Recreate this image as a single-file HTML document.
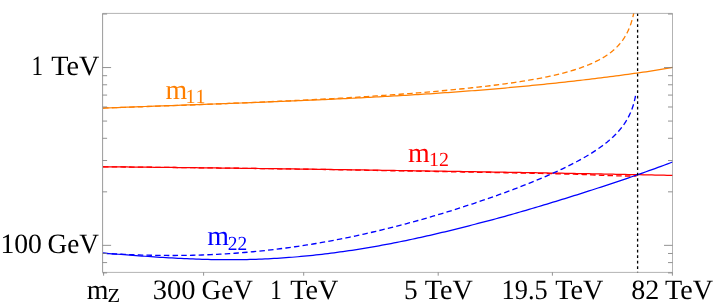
<!DOCTYPE html>
<html><head><meta charset="utf-8"><title>Running masses</title>
<style>
html,body{margin:0;padding:0;background:#fff;}
body{width:714px;height:306px;overflow:hidden;position:relative;font-family:"Liberation Serif",serif;}
.t text{font-family:"Liberation Serif",serif;text-rendering:geometricPrecision;}
svg{will-change:transform;}
</style></head>
<body>
<svg width="714" height="306" viewBox="0 0 714 306" style="position:absolute;left:0;top:0">
<g fill="none" stroke-width="1.25" stroke-linejoin="round">
<path d="M103.00,108.10 L106.00,107.98 L109.00,107.86 L112.00,107.75 L115.00,107.63 L118.00,107.52 L121.00,107.40 L124.00,107.29 L127.00,107.17 L130.00,107.06 L133.00,106.95 L136.00,106.84 L139.00,106.72 L142.00,106.61 L145.00,106.50 L148.00,106.39 L151.00,106.28 L154.00,106.17 L157.00,106.06 L160.00,105.95 L163.00,105.84 L166.00,105.74 L169.00,105.63 L172.00,105.52 L175.00,105.41 L178.00,105.30 L181.00,105.19 L184.00,105.09 L187.00,104.98 L190.00,104.87 L193.00,104.76 L196.00,104.65 L199.00,104.54 L202.00,104.44 L205.00,104.33 L208.00,104.22 L211.00,104.11 L214.00,104.00 L217.00,103.89 L220.00,103.78 L223.00,103.67 L226.00,103.56 L229.00,103.45 L232.00,103.34 L235.00,103.23 L238.00,103.12 L241.00,103.00 L244.00,102.89 L247.00,102.78 L250.00,102.66 L253.00,102.55 L256.00,102.43 L259.00,102.32 L262.00,102.20 L265.00,102.08 L268.00,101.97 L271.00,101.85 L274.00,101.73 L277.00,101.61 L280.00,101.49 L283.00,101.37 L286.00,101.24 L289.00,101.12 L292.00,100.99 L295.00,100.87 L298.00,100.74 L301.00,100.61 L304.00,100.49 L307.00,100.35 L310.00,100.22 L313.00,100.09 L316.00,99.96 L319.00,99.82 L322.00,99.69 L325.00,99.55 L328.00,99.41 L331.00,99.27 L334.00,99.13 L337.00,98.99 L340.00,98.84 L343.00,98.70 L346.00,98.55 L349.00,98.40 L352.00,98.25 L355.00,98.10 L358.00,97.95 L361.00,97.79 L364.00,97.64 L367.00,97.48 L370.00,97.32 L373.00,97.16 L376.00,97.00 L379.00,96.83 L382.00,96.67 L385.00,96.50 L388.00,96.33 L391.00,96.16 L394.00,95.99 L397.00,95.81 L400.00,95.64 L403.00,95.46 L406.00,95.28 L409.00,95.09 L412.00,94.91 L415.00,94.72 L418.00,94.53 L421.00,94.34 L424.00,94.15 L427.00,93.95 L430.00,93.76 L433.00,93.56 L436.00,93.35 L439.00,93.15 L442.00,92.94 L445.00,92.73 L448.00,92.52 L451.00,92.31 L454.00,92.09 L457.00,91.88 L460.00,91.66 L463.00,91.43 L466.00,91.21 L469.00,90.98 L472.00,90.75 L475.00,90.51 L478.00,90.28 L481.00,90.04 L484.00,89.80 L487.00,89.55 L490.00,89.31 L493.00,89.06 L496.00,88.81 L499.00,88.55 L502.00,88.29 L505.00,88.02 L508.00,87.75 L511.00,87.48 L514.00,87.21 L517.00,86.93 L520.00,86.65 L523.00,86.36 L526.00,86.07 L529.00,85.78 L532.00,85.49 L535.00,85.19 L538.00,84.89 L541.00,84.59 L544.00,84.28 L547.00,83.97 L550.00,83.66 L553.00,83.35 L556.00,83.03 L559.00,82.70 L562.00,82.38 L565.00,82.05 L568.00,81.72 L571.00,81.38 L574.00,81.04 L577.00,80.70 L580.00,80.35 L583.00,80.00 L586.00,79.65 L589.00,79.29 L592.00,78.93 L595.00,78.56 L598.00,78.19 L601.00,77.82 L604.00,77.45 L607.00,77.07 L610.00,76.68 L613.00,76.29 L616.00,75.90 L619.00,75.51 L622.00,75.11 L625.00,74.71 L628.00,74.30 L631.00,73.89 L634.00,73.47 L637.00,73.05 L640.00,72.63 L643.00,72.20 L646.00,71.77 L649.00,71.29 L652.00,70.79 L655.00,70.30 L658.00,69.80 L661.00,69.30 L664.00,68.79 L667.00,68.27 L670.00,67.76 L672.50,67.32" stroke="#ff7f00"/>
<path d="M103.00,108.04 L106.00,107.94 L109.00,107.84 L112.00,107.74 L115.00,107.65 L118.00,107.55 L121.00,107.45 L124.00,107.35 L127.00,107.25 L130.00,107.14 L133.00,107.04 L136.00,106.94 L139.00,106.84 L142.00,106.73 L145.00,106.63 L148.00,106.52 L151.00,106.42 L154.00,106.31 L157.00,106.21 L160.00,106.10 L163.00,105.99 L166.00,105.88 L169.00,105.77 L172.00,105.66 L175.00,105.55 L178.00,105.44 L181.00,105.33 L184.00,105.22 L187.00,105.11 L190.00,104.99 L193.00,104.88 L196.00,104.76 L199.00,104.65 L202.00,104.53 L205.00,104.42 L208.00,104.30 L211.00,104.18 L214.00,104.06 L217.00,103.94 L220.00,103.82 L223.00,103.70 L226.00,103.58 L229.00,103.45 L232.00,103.33 L235.00,103.21 L238.00,103.08 L241.00,102.96 L244.00,102.83 L247.00,102.70 L250.00,102.57 L253.00,102.44 L256.00,102.31 L259.00,102.18 L262.00,102.05 L265.00,101.92 L268.00,101.78 L271.00,101.65 L274.00,101.51 L277.00,101.38 L280.00,101.24 L283.00,101.10 L286.00,100.96 L289.00,100.82 L292.00,100.68 L295.00,100.53 L298.00,100.39 L301.00,100.24 L304.00,100.09 L307.00,99.94 L310.00,99.79 L313.00,99.64 L316.00,99.49 L319.00,99.33 L322.00,99.18 L325.00,99.02 L328.00,98.86 L331.00,98.70 L334.00,98.54 L337.00,98.37 L340.00,98.21 L343.00,98.04 L346.00,97.87 L349.00,97.70 L352.00,97.52 L355.00,97.33 L358.00,97.14 L361.00,96.94 L364.00,96.75 L367.00,96.55 L370.00,96.35 L373.00,96.15 L376.00,95.95 L379.00,95.74 L382.00,95.53 L385.00,95.32 L388.00,95.11 L391.00,94.89 L394.00,94.67 L397.00,94.45 L400.00,94.23 L403.00,94.00 L406.00,93.77 L409.00,93.54 L412.00,93.30 L415.00,93.07 L418.00,92.82 L421.00,92.58 L424.00,92.33 L427.00,92.08 L430.00,91.82 L433.00,91.56 L436.00,91.30 L439.00,91.03 L442.00,90.76 L445.00,90.48 L448.00,90.20 L451.00,89.91 L454.00,89.62 L457.00,89.33 L460.00,89.02 L463.00,88.72 L466.00,88.40 L469.00,88.08 L472.00,87.76 L475.00,87.43 L478.00,87.09 L481.00,86.75 L484.00,86.41 L487.00,86.07 L490.00,85.72 L493.00,85.36 L496.00,84.99 L499.00,84.61 L502.00,84.22 L505.00,83.82 L508.00,83.41 L511.00,82.99 L514.00,82.56 L517.00,82.12 L520.00,81.66 L523.00,81.19 L526.00,80.71 L529.00,80.21 L532.00,79.69 L535.00,79.16 L538.00,78.61 L541.00,78.04 L544.00,77.44 L547.00,76.83 L550.00,76.19 L553.00,75.53 L556.00,74.84 L559.00,74.12 L562.00,73.37 L565.00,72.59 L568.00,71.77 L571.00,70.91 L574.00,70.00 L577.00,69.05 L580.00,68.04 L583.00,66.97 L586.00,65.84 L589.00,64.63 L592.00,63.34 L595.00,61.95 L598.00,60.46 L600.00,59.39 L600.25,59.26 L600.50,59.12 L600.75,58.98 L601.00,58.84 L601.25,58.70 L601.50,58.56 L601.75,58.41 L602.00,58.27 L602.25,58.12 L602.50,57.98 L602.75,57.83 L603.00,57.68 L603.25,57.53 L603.50,57.38 L603.75,57.23 L604.00,57.07 L604.25,56.92 L604.50,56.76 L604.75,56.61 L605.00,56.45 L605.25,56.29 L605.50,56.13 L605.75,55.97 L606.00,55.80 L606.25,55.64 L606.50,55.47 L606.75,55.30 L607.00,55.14 L607.25,54.96 L607.50,54.79 L607.75,54.62 L608.00,54.44 L608.25,54.27 L608.50,54.09 L608.75,53.91 L609.00,53.73 L609.25,53.55 L609.50,53.36 L609.75,53.18 L610.00,52.99 L610.25,52.80 L610.50,52.61 L610.75,52.41 L611.00,52.22 L611.25,52.02 L611.50,51.82 L611.75,51.62 L612.00,51.42 L612.25,51.21 L612.50,51.01 L612.75,50.80 L613.00,50.59 L613.25,50.37 L613.50,50.16 L613.75,49.94 L614.00,49.72 L614.25,49.50 L614.50,49.27 L614.75,49.04 L615.00,48.81 L615.25,48.58 L615.50,48.35 L615.75,48.11 L616.00,47.87 L616.25,47.62 L616.50,47.38 L616.75,47.13 L617.00,46.87 L617.25,46.62 L617.50,46.36 L617.75,46.10 L618.00,45.83 L618.25,45.56 L618.50,45.29 L618.75,45.02 L619.00,44.74 L619.25,44.45 L619.50,44.16 L619.75,43.87 L620.00,43.58 L620.25,43.28 L620.50,42.98 L620.75,42.67 L621.00,42.35 L621.25,42.04 L621.50,41.71 L621.75,41.39 L622.00,41.05 L622.25,40.72 L622.50,40.37 L622.75,40.03 L623.00,39.67 L623.25,39.31 L623.50,38.94 L623.75,38.57 L624.00,38.19 L624.25,37.81 L624.50,37.41 L624.75,37.01 L625.00,36.60 L625.25,36.19 L625.50,35.76 L625.75,35.33 L626.00,34.89 L626.25,34.44 L626.50,33.98 L626.75,33.51 L627.00,33.03 L627.25,32.53 L627.50,32.03 L627.75,31.52 L628.00,30.99 L628.25,30.45 L628.50,29.89 L628.75,29.33 L629.00,28.74 L629.25,28.14 L629.50,27.53 L629.75,26.89 L630.00,26.24 L630.25,25.57 L630.50,24.87 L630.75,24.16 L631.00,23.42 L631.25,22.65 L631.50,21.86 L631.75,21.04 L632.00,20.18 L632.25,19.30 L632.50,18.37 L632.75,17.41 L633.00,16.40 L633.25,15.34 L633.50,14.24 L633.70,13.30" stroke="#ff7f00" stroke-dasharray="5.5 3.2" stroke-width="1.32"/>
<path d="M103.00,166.76 L106.00,166.79 L109.00,166.82 L112.00,166.85 L115.00,166.88 L118.00,166.91 L121.00,166.94 L124.00,166.97 L127.00,166.99 L130.00,167.02 L133.00,167.05 L136.00,167.08 L139.00,167.11 L142.00,167.15 L145.00,167.18 L148.00,167.21 L151.00,167.24 L154.00,167.27 L157.00,167.30 L160.00,167.33 L163.00,167.36 L166.00,167.40 L169.00,167.43 L172.00,167.46 L175.00,167.49 L178.00,167.53 L181.00,167.56 L184.00,167.59 L187.00,167.63 L190.00,167.66 L193.00,167.70 L196.00,167.73 L199.00,167.76 L202.00,167.80 L205.00,167.83 L208.00,167.87 L211.00,167.90 L214.00,167.94 L217.00,167.98 L220.00,168.01 L223.00,168.05 L226.00,168.08 L229.00,168.12 L232.00,168.16 L235.00,168.19 L238.00,168.23 L241.00,168.27 L244.00,168.31 L247.00,168.34 L250.00,168.38 L253.00,168.42 L256.00,168.46 L259.00,168.50 L262.00,168.54 L265.00,168.57 L268.00,168.61 L271.00,168.65 L274.00,168.69 L277.00,168.73 L280.00,168.77 L283.00,168.81 L286.00,168.85 L289.00,168.89 L292.00,168.93 L295.00,168.98 L298.00,169.02 L301.00,169.06 L304.00,169.10 L307.00,169.14 L310.00,169.18 L313.00,169.23 L316.00,169.27 L319.00,169.31 L322.00,169.36 L325.00,169.40 L328.00,169.44 L331.00,169.49 L334.00,169.53 L337.00,169.57 L340.00,169.62 L343.00,169.66 L346.00,169.71 L349.00,169.75 L352.00,169.80 L355.00,169.84 L358.00,169.89 L361.00,169.93 L364.00,169.98 L367.00,170.02 L370.00,170.07 L373.00,170.12 L376.00,170.16 L379.00,170.21 L382.00,170.26 L385.00,170.31 L388.00,170.35 L391.00,170.40 L394.00,170.45 L397.00,170.50 L400.00,170.55 L403.00,170.59 L406.00,170.63 L409.00,170.68 L412.00,170.72 L415.00,170.77 L418.00,170.81 L421.00,170.86 L424.00,170.91 L427.00,170.95 L430.00,171.00 L433.00,171.04 L436.00,171.09 L439.00,171.14 L442.00,171.18 L445.00,171.23 L448.00,171.28 L451.00,171.33 L454.00,171.37 L457.00,171.42 L460.00,171.47 L463.00,171.52 L466.00,171.57 L469.00,171.62 L472.00,171.67 L475.00,171.71 L478.00,171.76 L481.00,171.81 L484.00,171.86 L487.00,171.91 L490.00,171.96 L493.00,172.01 L496.00,172.07 L499.00,172.12 L502.00,172.17 L505.00,172.22 L508.00,172.27 L511.00,172.32 L514.00,172.37 L517.00,172.43 L520.00,172.48 L523.00,172.53 L526.00,172.58 L529.00,172.64 L532.00,172.69 L535.00,172.74 L538.00,172.80 L541.00,172.85 L544.00,172.91 L547.00,172.96 L550.00,173.01 L553.00,173.07 L556.00,173.12 L559.00,173.18 L562.00,173.23 L565.00,173.29 L568.00,173.35 L571.00,173.40 L574.00,173.46 L577.00,173.51 L580.00,173.57 L583.00,173.63 L586.00,173.68 L589.00,173.74 L592.00,173.80 L595.00,173.86 L598.00,173.91 L601.00,173.97 L604.00,174.03 L607.00,174.09 L610.00,174.15 L613.00,174.21 L616.00,174.27 L619.00,174.32 L622.00,174.38 L625.00,174.44 L628.00,174.50 L631.00,174.56 L634.00,174.62 L637.00,174.68 L640.00,174.74 L643.00,174.81 L646.00,174.87 L649.00,174.93 L652.00,174.99 L655.00,175.05 L658.00,175.11 L661.00,175.17 L664.00,175.23 L667.00,175.29 L670.00,175.35 L672.50,175.40" stroke="#ff0000"/>
<path d="M103.00,166.76 L106.00,166.79 L109.00,166.82 L112.00,166.85 L115.00,166.88 L118.00,166.91 L121.00,166.94 L124.00,166.97 L127.00,167.00 L130.00,167.03 L133.00,167.06 L136.00,167.09 L139.00,167.12 L142.00,167.15 L145.00,167.18 L148.00,167.21 L151.00,167.24 L154.00,167.27 L157.00,167.31 L160.00,167.34 L163.00,167.37 L166.00,167.40 L169.00,167.44 L172.00,167.47 L175.00,167.50 L178.00,167.54 L181.00,167.57 L184.00,167.61 L187.00,167.64 L190.00,167.68 L193.00,167.71 L196.00,167.75 L199.00,167.78 L202.00,167.82 L205.00,167.85 L208.00,167.89 L211.00,167.93 L214.00,167.96 L217.00,168.00 L220.00,168.04 L223.00,168.07 L226.00,168.11 L229.00,168.15 L232.00,168.19 L235.00,168.23 L238.00,168.27 L241.00,168.30 L244.00,168.34 L247.00,168.38 L250.00,168.42 L253.00,168.46 L256.00,168.50 L259.00,168.54 L262.00,168.58 L265.00,168.62 L268.00,168.67 L271.00,168.71 L274.00,168.75 L277.00,168.79 L280.00,168.83 L283.00,168.88 L286.00,168.92 L289.00,168.96 L292.00,169.00 L295.00,169.05 L298.00,169.09 L301.00,169.13 L304.00,169.18 L307.00,169.22 L310.00,169.27 L313.00,169.31 L316.00,169.36 L319.00,169.40 L322.00,169.45 L325.00,169.49 L328.00,169.54 L331.00,169.59 L334.00,169.63 L337.00,169.68 L340.00,169.74 L343.00,169.79 L346.00,169.84 L349.00,169.90 L352.00,169.95 L355.00,170.01 L358.00,170.07 L361.00,170.13 L364.00,170.19 L367.00,170.25 L370.00,170.31 L373.00,170.37 L376.00,170.43 L379.00,170.49 L382.00,170.55 L385.00,170.61 L388.00,170.67 L391.00,170.72 L394.00,170.78 L397.00,170.84 L400.00,170.90 L403.00,170.95 L406.00,171.00 L409.00,171.05 L412.00,171.10 L415.00,171.15 L418.00,171.20 L421.00,171.25 L424.00,171.30 L427.00,171.35 L430.00,171.40 L433.00,171.45 L436.00,171.50 L439.00,171.55 L442.00,171.61 L445.00,171.66 L448.00,171.71 L451.00,171.76 L454.00,171.81 L457.00,171.87 L460.00,171.92 L463.00,171.97 L466.00,172.03 L469.00,172.08 L472.00,172.13 L475.00,172.19 L478.00,172.24 L481.00,172.30 L484.00,172.35 L487.00,172.40 L490.00,172.46 L493.00,172.51 L496.00,172.57 L499.00,172.63 L502.00,172.68 L505.00,172.74 L508.00,172.80 L511.00,172.85 L514.00,172.91 L517.00,172.97 L520.00,173.03 L523.00,173.09 L526.00,173.15 L529.00,173.21 L532.00,173.27 L535.00,173.33 L538.00,173.39 L541.00,173.45 L544.00,173.51 L547.00,173.58 L550.00,173.64 L553.00,173.71 L556.00,173.77 L559.00,173.84 L562.00,173.91 L565.00,173.98 L568.00,174.05 L571.00,174.13 L574.00,174.20 L577.00,174.28 L580.00,174.38 L583.00,174.49 L586.00,174.60 L589.00,174.72 L592.00,174.84 L595.00,174.97 L598.00,175.10 L601.00,175.23 L604.00,175.36 L607.00,175.47 L610.00,175.58 L613.00,175.68 L616.00,175.78 L619.00,175.86 L622.00,175.93 L625.00,175.98 L628.00,176.01 L631.00,176.01 L634.00,176.00 L636.50,175.97" stroke="#ff0000" stroke-dasharray="5.5 3.2" stroke-width="1.32"/>
<path d="M103.00,253.14 L106.00,253.36 L109.00,253.58 L112.00,253.80 L115.00,254.03 L118.00,254.25 L121.00,254.48 L124.00,254.70 L127.00,254.93 L130.00,255.16 L133.00,255.38 L136.00,255.60 L139.00,255.82 L142.00,256.04 L145.00,256.25 L148.00,256.47 L151.00,256.67 L154.00,256.88 L157.00,257.08 L160.00,257.27 L163.00,257.46 L166.00,257.64 L169.00,257.82 L172.00,257.99 L175.00,258.15 L178.00,258.31 L181.00,258.46 L184.00,258.60 L187.00,258.74 L190.00,258.87 L193.00,258.98 L196.00,259.09 L199.00,259.20 L202.00,259.29 L205.00,259.37 L208.00,259.45 L211.00,259.51 L214.00,259.57 L217.00,259.62 L220.00,259.65 L223.00,259.68 L226.00,259.69 L229.00,259.70 L232.00,259.69 L235.00,259.68 L238.00,259.65 L241.00,259.61 L244.00,259.56 L247.00,259.51 L250.00,259.43 L253.00,259.35 L256.00,259.26 L259.00,259.15 L262.00,259.04 L265.00,258.91 L268.00,258.77 L271.00,258.62 L274.00,258.46 L277.00,258.29 L280.00,258.10 L283.00,257.91 L286.00,257.70 L289.00,257.48 L292.00,257.25 L295.00,257.00 L298.00,256.75 L301.00,256.48 L304.00,256.20 L307.00,255.92 L310.00,255.61 L313.00,255.30 L316.00,254.98 L319.00,254.64 L322.00,254.30 L325.00,253.94 L328.00,253.57 L331.00,253.19 L334.00,252.80 L337.00,252.40 L340.00,251.99 L343.00,251.57 L346.00,251.15 L349.00,250.71 L352.00,250.26 L355.00,249.80 L358.00,249.33 L361.00,248.85 L364.00,248.37 L367.00,247.87 L370.00,247.36 L373.00,246.84 L376.00,246.31 L379.00,245.77 L382.00,245.22 L385.00,244.67 L388.00,244.10 L391.00,243.53 L394.00,242.94 L397.00,242.35 L400.00,241.75 L403.00,241.14 L406.00,240.52 L409.00,239.89 L412.00,239.26 L415.00,238.62 L418.00,237.96 L421.00,237.31 L424.00,236.64 L427.00,235.96 L430.00,235.28 L433.00,234.59 L436.00,233.90 L439.00,233.19 L442.00,232.48 L445.00,231.77 L448.00,231.04 L451.00,230.31 L454.00,229.57 L457.00,228.83 L460.00,228.08 L463.00,227.33 L466.00,226.56 L469.00,225.80 L472.00,225.02 L475.00,224.24 L478.00,223.46 L481.00,222.68 L484.00,221.90 L487.00,221.13 L490.00,220.35 L493.00,219.56 L496.00,218.76 L499.00,217.97 L502.00,217.14 L505.00,216.30 L508.00,215.45 L511.00,214.60 L514.00,213.74 L517.00,212.88 L520.00,212.02 L523.00,211.15 L526.00,210.28 L529.00,209.40 L532.00,208.52 L535.00,207.63 L538.00,206.74 L541.00,205.84 L544.00,204.94 L547.00,204.04 L550.00,203.13 L553.00,202.22 L556.00,201.31 L559.00,200.39 L562.00,199.46 L565.00,198.53 L568.00,197.60 L571.00,196.66 L574.00,195.72 L577.00,194.78 L580.00,193.83 L583.00,192.87 L586.00,191.91 L589.00,190.95 L592.00,189.98 L595.00,189.01 L598.00,188.03 L601.00,187.05 L604.00,186.06 L607.00,185.07 L610.00,184.07 L613.00,183.08 L616.00,182.08 L619.00,181.08 L622.00,180.07 L625.00,179.06 L628.00,178.04 L631.00,177.01 L634.00,175.98 L637.00,174.94 L640.00,173.89 L643.00,172.84 L646.00,171.78 L649.00,170.71 L652.00,169.63 L655.00,168.55 L658.00,167.46 L661.00,166.35 L664.00,165.23 L667.00,164.11 L670.00,162.97 L672.50,162.02" stroke="#0000ff"/>
<path d="M103.00,253.22 L106.00,253.41 L109.00,253.58 L112.00,253.75 L115.00,253.92 L118.00,254.07 L121.00,254.22 L124.00,254.36 L127.00,254.49 L130.00,254.62 L133.00,254.74 L136.00,254.84 L139.00,254.95 L142.00,255.04 L145.00,255.12 L148.00,255.20 L151.00,255.26 L154.00,255.32 L157.00,255.37 L160.00,255.41 L163.00,255.44 L166.00,255.46 L169.00,255.47 L172.00,255.47 L175.00,255.47 L178.00,255.45 L181.00,255.43 L184.00,255.39 L187.00,255.34 L190.00,255.29 L193.00,255.22 L196.00,255.15 L199.00,255.06 L202.00,254.97 L205.00,254.86 L208.00,254.74 L211.00,254.62 L214.00,254.48 L217.00,254.33 L220.00,254.17 L223.00,254.01 L226.00,253.83 L229.00,253.64 L232.00,253.44 L235.00,253.23 L238.00,253.01 L241.00,252.77 L244.00,252.53 L247.00,252.28 L250.00,252.01 L253.00,251.74 L256.00,251.45 L259.00,251.16 L262.00,250.85 L265.00,250.53 L268.00,250.20 L271.00,249.86 L274.00,249.51 L277.00,249.15 L280.00,248.78 L283.00,248.40 L286.00,248.00 L289.00,247.60 L292.00,247.18 L295.00,246.76 L298.00,246.32 L301.00,245.87 L304.00,245.41 L307.00,244.95 L310.00,244.47 L313.00,243.98 L316.00,243.48 L319.00,242.97 L322.00,242.44 L325.00,241.91 L328.00,241.37 L331.00,240.82 L334.00,240.25 L337.00,239.68 L340.00,239.10 L343.00,238.50 L346.00,237.90 L349.00,237.29 L352.00,236.66 L355.00,236.03 L358.00,235.38 L361.00,234.73 L364.00,234.06 L367.00,233.39 L370.00,232.71 L373.00,232.01 L376.00,231.31 L379.00,230.60 L382.00,229.88 L385.00,229.15 L388.00,228.41 L391.00,227.66 L394.00,226.90 L397.00,226.13 L400.00,225.35 L403.00,224.56 L406.00,223.77 L409.00,222.96 L412.00,222.15 L415.00,221.32 L418.00,220.49 L421.00,219.65 L424.00,218.80 L427.00,217.94 L430.00,217.07 L433.00,216.20 L436.00,215.31 L439.00,214.42 L442.00,213.52 L445.00,212.61 L448.00,211.69 L451.00,210.76 L454.00,209.82 L457.00,208.88 L460.00,207.92 L463.00,206.96 L466.00,205.99 L469.00,205.01 L472.00,204.02 L475.00,203.02 L478.00,202.01 L481.00,200.99 L484.00,199.97 L487.00,198.93 L490.00,197.89 L493.00,196.83 L496.00,195.77 L499.00,194.69 L502.00,193.61 L505.00,192.51 L508.00,191.41 L511.00,190.29 L514.00,189.16 L517.00,188.02 L520.00,186.87 L523.00,185.70 L526.00,184.52 L529.00,183.33 L532.00,182.12 L535.00,180.90 L538.00,179.66 L541.00,178.40 L544.00,177.13 L547.00,175.83 L550.00,174.52 L553.00,173.18 L556.00,171.83 L559.00,170.44 L562.00,169.03 L565.00,167.59 L568.00,166.12 L571.00,164.62 L574.00,163.08 L577.00,161.50 L580.00,159.88 L583.00,158.20 L586.00,156.48 L589.00,154.69 L592.00,152.83 L595.00,150.90 L598.00,148.88 L600.00,147.48 L600.25,147.30 L600.50,147.12 L600.75,146.95 L601.00,146.76 L601.25,146.58 L601.50,146.40 L601.75,146.22 L602.00,146.03 L602.25,145.85 L602.50,145.66 L602.75,145.48 L603.00,145.29 L603.25,145.10 L603.50,144.91 L603.75,144.72 L604.00,144.53 L604.25,144.34 L604.50,144.15 L604.75,143.95 L605.00,143.76 L605.25,143.56 L605.50,143.37 L605.75,143.17 L606.00,142.97 L606.25,142.77 L606.50,142.57 L606.75,142.37 L607.00,142.16 L607.25,141.96 L607.50,141.75 L607.75,141.55 L608.00,141.34 L608.25,141.13 L608.50,140.92 L608.75,140.71 L609.00,140.50 L609.25,140.28 L609.50,140.07 L609.75,139.85 L610.00,139.63 L610.25,139.42 L610.50,139.20 L610.75,138.97 L611.00,138.75 L611.25,138.53 L611.50,138.30 L611.75,138.07 L612.00,137.84 L612.25,137.61 L612.50,137.38 L612.75,137.15 L613.00,136.91 L613.25,136.68 L613.50,136.44 L613.75,136.20 L614.00,135.95 L614.25,135.71 L614.50,135.46 L614.75,135.22 L615.00,134.97 L615.25,134.72 L615.50,134.46 L615.75,134.21 L616.00,133.95 L616.25,133.69 L616.50,133.43 L616.75,133.17 L617.00,132.90 L617.25,132.63 L617.50,132.36 L617.75,132.09 L618.00,131.81 L618.25,131.53 L618.50,131.25 L618.75,130.97 L619.00,130.69 L619.25,130.40 L619.50,130.11 L619.75,129.81 L620.00,129.52 L620.25,129.22 L620.50,128.91 L620.75,128.61 L621.00,128.30 L621.25,127.98 L621.50,127.67 L621.75,127.35 L622.00,127.02 L622.25,126.70 L622.50,126.37 L622.75,126.03 L623.00,125.69 L623.25,125.35 L623.50,125.00 L623.75,124.65 L624.00,124.29 L624.25,123.93 L624.50,123.57 L624.75,123.19 L625.00,122.82 L625.25,122.44 L625.50,122.05 L625.75,121.66 L626.00,121.26 L626.25,120.85 L626.50,120.44 L626.75,120.02 L627.00,119.59 L627.25,119.16 L627.50,118.72 L627.75,118.27 L628.00,117.81 L628.25,117.34 L628.50,116.87 L628.75,116.38 L629.00,115.89 L629.25,115.38 L629.50,114.87 L629.75,114.34 L630.00,113.80 L630.25,113.24 L630.50,112.68 L630.75,112.09 L631.00,111.50 L631.25,110.88 L631.50,110.25 L631.75,109.60 L632.00,108.93 L632.25,108.23 L632.50,107.51 L632.75,106.77 L633.00,106.00 L633.25,105.20 L633.50,104.37 L633.75,103.50 L634.00,102.59 L634.25,101.63 L634.50,100.63 L634.75,99.57 L635.00,98.45 L635.25,97.25 L635.50,95.97 L635.75,94.59 L636.00,93.09 L636.04,92.80" stroke="#0000ff" stroke-dasharray="5.5 3.2" stroke-width="1.32"/>
</g>
<path d="M637.6,13.4V272.4" stroke="#000" stroke-width="1.3" stroke-dasharray="2.6 2.9" stroke-dashoffset="0.1" fill="none"/>
<path d="M102.6,272.4V13.4" fill="none" stroke="#808080" stroke-width="0.8"/>
<path d="M102.6,13.4H672.5V272.4H102.6" fill="none" stroke="#808080" stroke-width="0.6"/>
<path d="M102.6,272.89h4.5M672.5,272.89h-4.5M102.6,262.58h4.5M672.5,262.58h-4.5M102.6,253.49h4.5M672.5,253.49h-4.5M102.6,245.35h8.5M672.5,245.35h-8.5M102.6,191.83h4.5M672.5,191.83h-4.5M102.6,160.52h4.5M672.5,160.52h-4.5M102.6,138.30h4.5M672.5,138.30h-4.5M102.6,121.07h4.5M672.5,121.07h-4.5M102.6,106.99h4.5M672.5,106.99h-4.5M102.6,95.09h4.5M672.5,95.09h-4.5M102.6,84.78h4.5M672.5,84.78h-4.5M102.6,75.69h4.5M672.5,75.69h-4.5M102.6,67.55h8.5M672.5,67.55h-8.5M102.6,14.03h4.5M672.5,14.03h-4.5M103.6,272.4v3.3M203.6,272.4v3.3M303.7,272.4v3.3M438.2,272.4v3.3M552.4,272.4v3.3M672.4,272.4v3.3" fill="none" stroke="#808080" stroke-width="0.85"/>
<g class="t">
<text x="31.48" y="74.9" fill="#000" style="font-size:28px" textLength="11.50" lengthAdjust="spacingAndGlyphs">1</text>
<text x="51.23" y="74.9" fill="#000" style="font-size:28px" textLength="48.09" lengthAdjust="spacingAndGlyphs">TeV</text>
<text x="0.43" y="253.4" fill="#000" style="font-size:28px" textLength="41.47" lengthAdjust="spacingAndGlyphs">100</text>
<text x="47.62" y="253.4" fill="#000" style="font-size:28px" textLength="51.40" lengthAdjust="spacingAndGlyphs">GeV</text>
<text x="86.79" y="299.0" fill="#000" style="font-size:28px" textLength="21.72" lengthAdjust="spacingAndGlyphs">m</text>
<text x="107.45" y="302.4" fill="#000" style="font-size:20px" textLength="12.58" lengthAdjust="spacingAndGlyphs">Z</text>
<text x="152.86" y="299.0" fill="#000" style="font-size:28px" textLength="42.72" lengthAdjust="spacingAndGlyphs">300</text>
<text x="201.62" y="299.0" fill="#000" style="font-size:28px" textLength="51.40" lengthAdjust="spacingAndGlyphs">GeV</text>
<text x="270.28" y="299.0" fill="#000" style="font-size:28px" textLength="11.50" lengthAdjust="spacingAndGlyphs">1</text>
<text x="290.35" y="299.0" fill="#000" style="font-size:28px" textLength="48.09" lengthAdjust="spacingAndGlyphs">TeV</text>
<text x="403.88" y="299.0" fill="#000" style="font-size:28px" textLength="13.67" lengthAdjust="spacingAndGlyphs">5</text>
<text x="424.87" y="299.0" fill="#000" style="font-size:28px" textLength="48.09" lengthAdjust="spacingAndGlyphs">TeV</text>
<text x="501.57" y="299.0" fill="#000" style="font-size:28px" textLength="46.06" lengthAdjust="spacingAndGlyphs">19.5</text>
<text x="555.21" y="299.0" fill="#000" style="font-size:28px" textLength="48.09" lengthAdjust="spacingAndGlyphs">TeV</text>
<text x="631.20" y="299.0" fill="#000" style="font-size:28px" textLength="28.02" lengthAdjust="spacingAndGlyphs">82</text>
<text x="664.92" y="299.0" fill="#000" style="font-size:28px" textLength="48.09" lengthAdjust="spacingAndGlyphs">TeV</text>
<text x="165.50" y="98.9" fill="#ff7f00" style="font-size:28px" textLength="21.72" lengthAdjust="spacingAndGlyphs">m</text>
<text x="185.55" y="102.5" fill="#ff7f00" style="font-size:20px;font-kerning:none" textLength="20.00" lengthAdjust="spacingAndGlyphs">11</text>
<text x="408.07" y="161.6" fill="#ff0000" style="font-size:28px" textLength="21.72" lengthAdjust="spacingAndGlyphs">m</text>
<text x="428.96" y="166.1" fill="#ff0000" style="font-size:20px" textLength="19.88" lengthAdjust="spacingAndGlyphs">12</text>
<text x="207.36" y="244.7" fill="#0000ff" style="font-size:28px" textLength="21.72" lengthAdjust="spacingAndGlyphs">m</text>
<text x="227.71" y="249.6" fill="#0000ff" style="font-size:20px" textLength="19.40" lengthAdjust="spacingAndGlyphs">22</text>
</g>
</svg>
</body></html>
